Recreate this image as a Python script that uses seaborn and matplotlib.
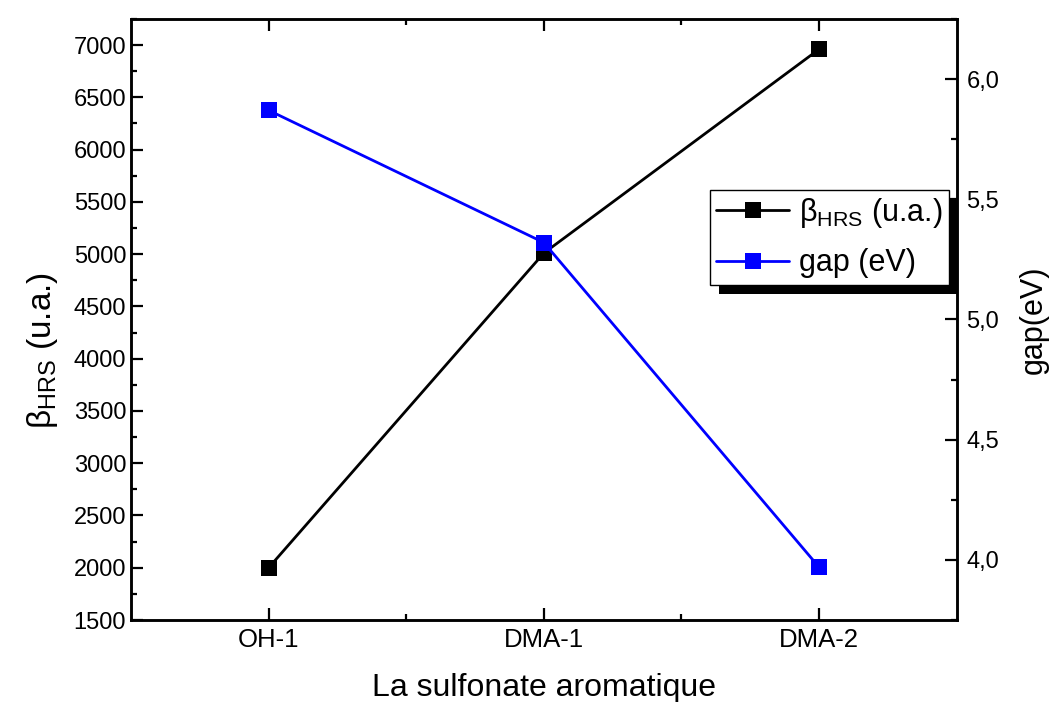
import matplotlib
matplotlib.use('Agg')
import matplotlib.pyplot as plt
from matplotlib.patches import Rectangle
from matplotlib.transforms import IdentityTransform
from matplotlib.ticker import FixedLocator, MultipleLocator
import seaborn as sns
import pandas as pd

categories = ['OH-1', 'DMA-1', 'DMA-2']
beta_hrs = [2000, 5010, 6960]
gap_ev = [5.87, 5.32, 3.97]

sns.set_style('ticks')
plt.rcParams['font.family'] = ['Liberation Sans', 'DejaVu Sans']
plt.rcParams['mathtext.fontset'] = 'custom'
plt.rcParams['mathtext.rm'] = 'Liberation Sans'
plt.rcParams.update({'text.color': 'black', 'axes.labelcolor': 'black',
                     'xtick.color': 'black', 'ytick.color': 'black',
                     'axes.edgecolor': 'black'})

df = pd.DataFrame({'cat': categories, 'beta': beta_hrs, 'gap': gap_ev})

fig = plt.figure(figsize=(10.57, 7.02), dpi=100)
ax = fig.add_axes([0.124, 0.1168, 0.781, 0.8562])
ax2 = ax.twinx()

sns.lineplot(data=df, x='cat', y='beta', ax=ax, color='black', marker='s',
             markersize=12, markeredgewidth=0, linewidth=2.0, sort=False,
             label=r'β$_{\mathrm{HRS}}$ (u.a.)', legend=False)
sns.lineplot(data=df, x='cat', y='gap', ax=ax2, color='#0000ff', marker='s',
             markersize=12, markeredgewidth=0, linewidth=2.0, sort=False,
             label='gap (eV)', legend=False)

ax.set_xlim(-0.5, 2.5)
ax.set_ylim(1500, 7250)
ax2.set_ylim(3.75, 6.25)

ax.yaxis.set_major_locator(MultipleLocator(500))
ax.yaxis.set_minor_locator(MultipleLocator(250))
ax.xaxis.set_minor_locator(FixedLocator([0.5, 1.5]))
ax2.set_yticks([4.0, 4.5, 5.0, 5.5, 6.0])
ax2.set_yticklabels(['4,0', '4,5', '5,0', '5,5', '6,0'])
ax2.yaxis.set_minor_locator(MultipleLocator(0.25))

ax.tick_params(axis='both', which='both', direction='in', width=1.6,
               top=True, right=False)
ax.tick_params(axis='x', labelsize=18.5, pad=6)
ax.tick_params(axis='y', labelsize=17)
ax.tick_params(which='major', length=8.5)
ax.tick_params(which='minor', length=4.5)
ax2.tick_params(axis='y', which='both', direction='in', width=1.6,
                labelsize=17, pad=7)
ax2.tick_params(which='major', length=8.5)
ax2.tick_params(which='minor', length=4.5)

for a in (ax, ax2):
    for s in a.spines.values():
        s.set_linewidth(1.8)
        s.set_visible(True)

ax.set_xlabel('La sulfonate aromatique', fontsize=23, labelpad=15)
ax.set_ylabel(r'β$_{\mathrm{HRS}}$ (u.a.)', fontsize=24)
ax.yaxis.set_label_coords(-0.086, 0.448)
ax2.set_ylabel('gap(eV)', fontsize=22, labelpad=14)

h1, l1 = ax.get_legend_handles_labels()
h2, l2 = ax2.get_legend_handles_labels()
leg = ax2.legend(h1 + h2, l1 + l2, loc='upper left',
                 bbox_to_anchor=(710 / 1057, 1 - 190 / 702),
                 bbox_transform=fig.transFigure, fontsize=22,
                 fancybox=False, framealpha=1, edgecolor='black',
                 handlelength=2.4, handletextpad=0.32, borderpad=0.2,
                 labelspacing=0.6, borderaxespad=0)
leg.get_frame().set_linewidth(1.0)

fig.canvas.draw()
bb = leg.get_window_extent()
shadow = Rectangle((bb.x0 + 9, bb.y0 - 9), bb.width, bb.height,
                   transform=IdentityTransform(), facecolor='black',
                   edgecolor='none', zorder=leg.get_zorder() - 0.1, clip_on=False)
ax2.add_artist(shadow)

fig.savefig('out.png', dpi=100)
